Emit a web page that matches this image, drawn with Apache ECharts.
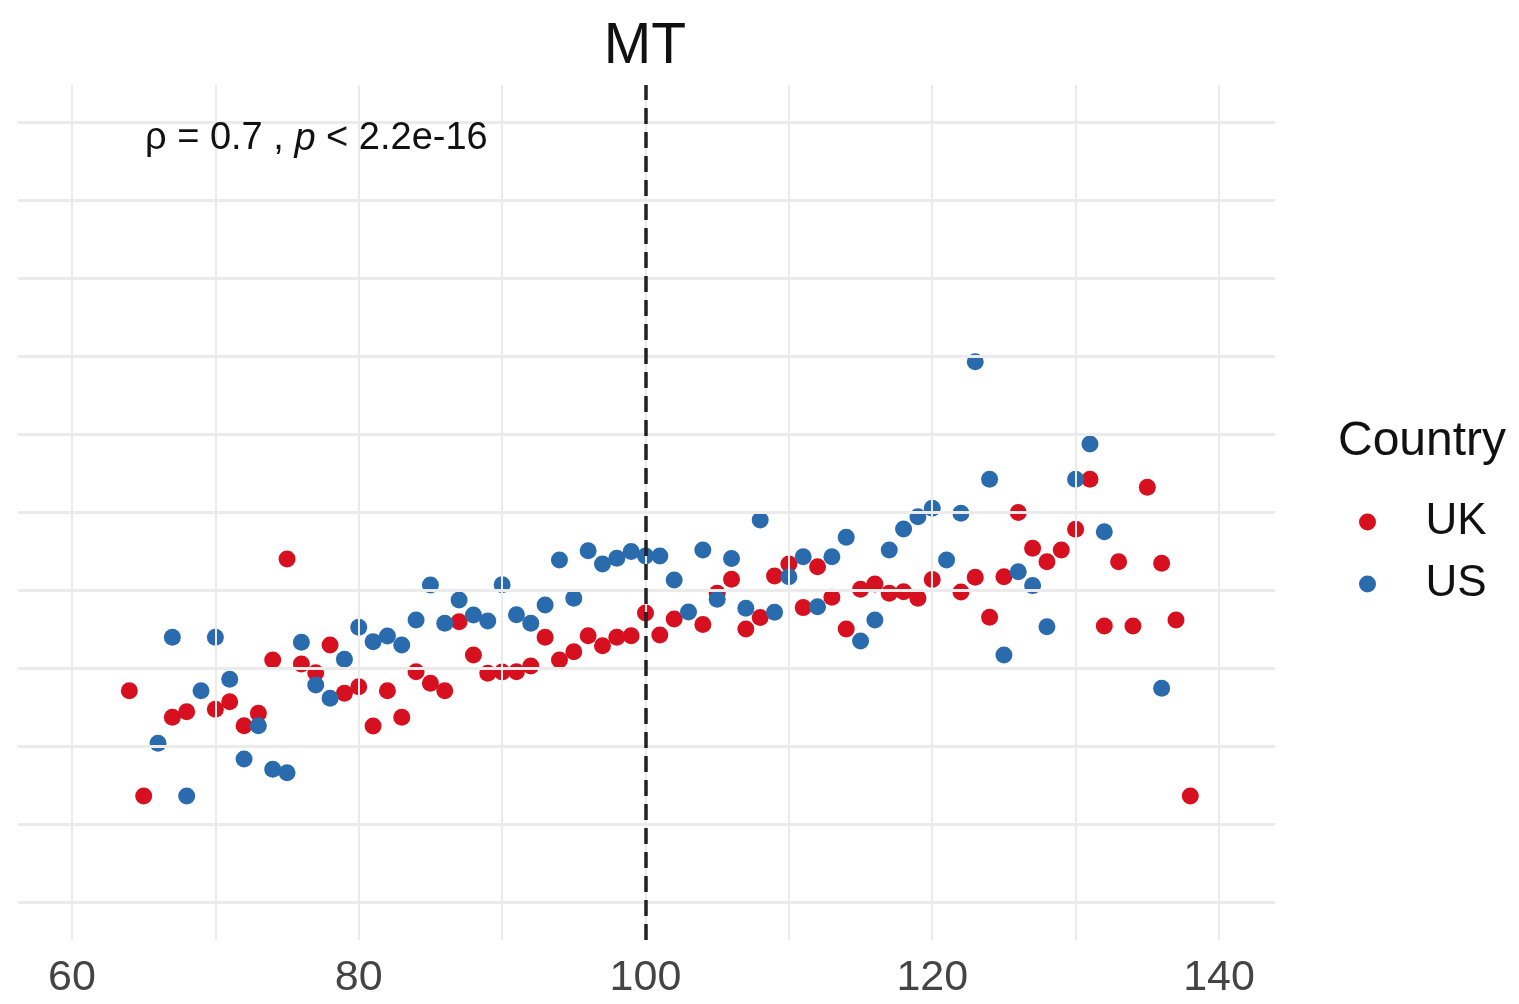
<!DOCTYPE html>
<html>
<head>
<meta charset="utf-8">
<script src="https://cdn.jsdelivr.net/npm/echarts@6/dist/echarts.min.js"></script>
<style>html,body{margin:0;padding:0;background:#fff}#c{width:1519px;height:1004px}</style>
</head>
<body>
<div id="c"></div>
<script>
const ukX = [64,65,67,68,70,71,72,73,74,75,76,77,78,79,80,81,82,83,84,85,86,87,88,89,90,91,92,93,94,95,96,97,98,99,100,101,102,104,105,106,107,108,109,110,111,112,113,114,115,116,117,118,119,120,122,123,124,125,126,127,128,129,130,131,132,133,134,135,136,137,138];
const ukY = [13.54,6.79,11.84,12.20,12.35,12.84,11.30,12.10,15.51,21.99,15.26,14.70,16.47,13.38,13.80,11.28,13.54,11.84,14.76,14.02,13.54,17.97,15.83,14.66,14.74,14.76,15.13,16.97,15.51,16.04,17.07,16.43,16.97,17.07,18.53,17.12,18.14,17.79,19.79,20.69,17.50,18.24,20.90,21.67,18.87,21.49,19.53,17.50,20.04,20.38,19.79,19.89,19.47,20.67,19.87,20.81,18.25,20.85,24.96,22.67,21.81,22.56,23.89,27.10,17.69,21.81,17.69,26.58,21.71,18.08,6.79];
const usX = [66,67,68,69,70,71,72,73,74,75,76,77,78,79,80,81,82,83,84,85,86,87,88,89,90,91,92,93,94,95,96,97,98,99,100,101,102,103,104,105,106,107,108,109,110,111,112,113,114,115,116,117,118,119,120,121,122,123,124,125,126,127,128,130,131,132,136];
const usY = [10.17,16.97,6.79,13.54,16.97,14.28,9.17,11.30,8.51,8.29,16.65,13.91,13.06,15.56,17.61,16.69,17.05,16.47,18.08,20.32,17.87,19.36,18.40,18.01,20.34,18.42,17.87,19.04,21.92,19.47,22.52,21.67,22.03,22.46,22.18,22.18,20.64,18.59,22.56,19.40,22.02,18.83,24.49,18.57,20.85,22.13,18.93,22.13,23.38,16.73,18.08,22.56,23.91,24.70,25.24,21.92,24.92,34.63,27.10,15.83,21.17,20.28,17.65,27.10,29.36,23.74,13.70];
const xTickLabels = [60,80,100,120,140];
const xGridValues = [60,70,80,90,100,110,120,130,140];
const yGridValues = [0,5,10,15,20,25,30,35,40,45,50];
const refX = 100;
const seriesNames = ['UK','US'];
const colors = ['#D7101F','#2A6BAE'];

const FONT = '"Liberation Sans", Arial, Helvetica, sans-serif';
const chart = echarts.init(document.getElementById('c'), null, {renderer:'canvas'});
const zip = (xs, ys) => xs.map((x,i)=>[x, ys[i]]);

chart.setOption({
  animation: false,
  backgroundColor: '#ffffff',
  textStyle: {fontFamily: FONT},
  title: [{
    text: 'MT', left: 640, top: 42, textAlign: 'center', textVerticalAlign: 'middle',
    textStyle: {fontSize: 57, fontWeight: 'normal', color: '#111', fontFamily: FONT}
  }],
  grid: {left: 18, right: 244, top: 85, bottom: 64, containLabel: false},
  xAxis: {
    type: 'value', min: 56.234, max: 143.906,
    axisLine: {show: false}, axisTick: {show: false}, splitLine: {show: false},
    axisLabel: {customValues: xTickLabels, fontSize: 43, color: '#444', margin: 17, fontFamily: FONT}
  },
  yAxis: {
    type: 'value', min: -2.436, max: 52.37,
    axisLine: {show: false}, axisTick: {show: false}, splitLine: {show: false}, axisLabel: {show: false}
  },
  legend: {
    data: seriesNames, orient: 'vertical', left: 1354, top: 495,
    itemWidth: 106, itemHeight: 17, itemGap: 18, icon: 'circle',
    textStyle: {fontSize: 44, color: '#111', lineHeight: 44, fontFamily: FONT}
  },
  graphic: [
    {type: 'text', z: 100, left: 1338, top: 444 - 26, style: {text: 'Country', fontSize: 48, fill: '#111', font: '48px ' + FONT}},
    {type: 'text', z: 100, x: 145, y: 139, style: {
      text: '{a|ρ = 0.7 , }{b|p}{a| < 2.2e-16}', verticalAlign: 'middle', align: 'left',
      rich: {a: {fontSize: 38, fill: '#111', fontFamily: FONT}, b: {fontSize: 38, fill: '#111', fontStyle: 'italic', fontFamily: FONT}}
    }}
  ],
  series: [
    {
      type: 'line', data: [], z: 0, silent: true,
      markLine: {
        silent: true, symbol: 'none', label: {show: false}, animation: false,
        data: xGridValues.map(v=>({xAxis: v, lineStyle: {color: '#ebebeb', width: 2, type: 'solid'}}))
          .concat(yGridValues.map(v=>({yAxis: v, lineStyle: {color: '#ebebeb', width: 3, type: 'solid'}})))
      }
    },
    {
      type: 'line', data: [], z: 1, silent: true,
      markLine: {
        silent: true, symbol: 'none', label: {show: false}, animation: false,
        data: [{xAxis: refX}],
        lineStyle: {color: '#222', width: 3.5, type: [16, 8]}
      }
    },
    {name: seriesNames[0], type: 'scatter', z: 3, symbolSize: 17, itemStyle: {color: colors[0], opacity: 1}, data: zip(ukX, ukY)},
    {name: seriesNames[1], type: 'scatter', z: 4, symbolSize: 17, itemStyle: {color: colors[1], opacity: 1}, data: zip(usX, usY)}
  ]
});
</script>
</body>
</html>
